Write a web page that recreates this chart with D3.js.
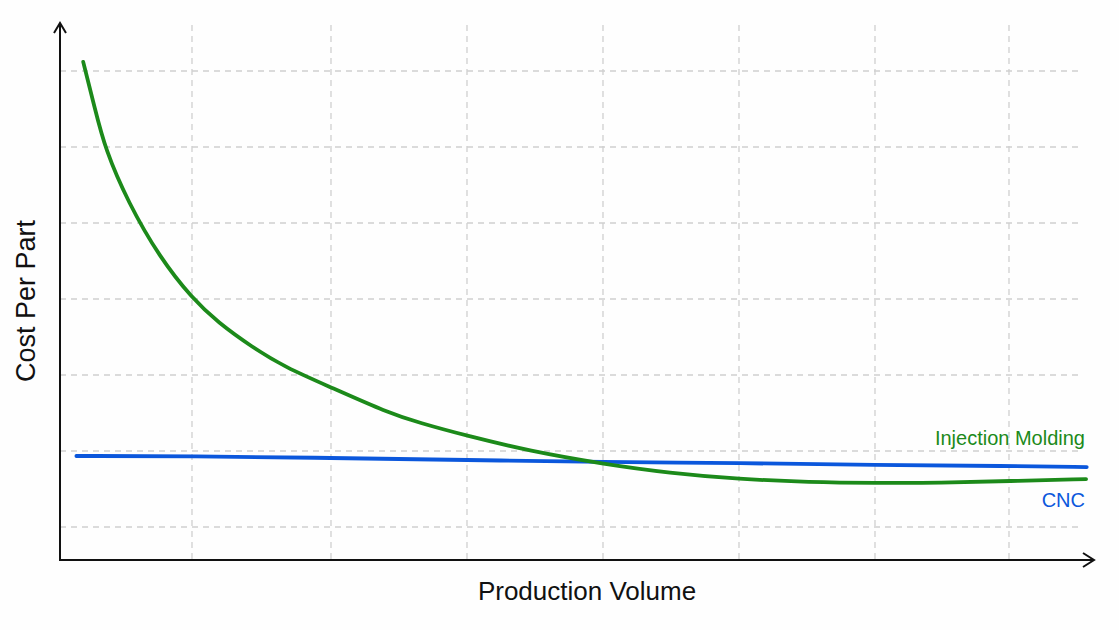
<!DOCTYPE html>
<html>
<head>
<meta charset="utf-8">
<script src="https://cdn.jsdelivr.net/npm/d3@7"></script>
<style>
  html, body { margin: 0; padding: 0; background: #fefefe; }
  svg { display: block; font-family: "Liberation Sans", Arial, sans-serif; }
</style>
</head>
<body>
<svg id="chart" width="1119" height="630"></svg>
<script>
// values (volume, cost per part) in grid units
var gridVolume = [1, 2, 3, 4, 5, 6, 7];
var gridCost = [1, 2, 3, 4, 5, 6, 7];

var injectionVolume = [0.20, 0.287, 0.36, 0.53, 0.765, 1.00, 1.187, 1.43, 1.67, 2.01, 2.41, 2.65, 3.00, 3.46, 4.00, 4.49, 5.00, 5.52, 6.00, 6.49, 7.00, 7.575];
var injectionCost = [7.12, 6.50, 5.98, 5.27, 4.54, 4.01, 3.69, 3.37, 3.10, 2.83, 2.51, 2.37, 2.20, 2.00, 1.83, 1.71, 1.63, 1.59, 1.58, 1.58, 1.605, 1.63];

var cncVolume = [0.15, 1.00, 2.00, 3.00, 4.00, 5.00, 6.00, 7.00, 7.58];
var cncCost = [1.934, 1.934, 1.908, 1.882, 1.855, 1.842, 1.816, 1.803, 1.789];

var seriesNames = ["Injection Molding", "CNC"];
var axisTitles = {x: "Production Volume", y: "Cost Per Part"};

var svg = d3.select("#chart");

var axisLeft = 60, axisBottom = 560, axisTop = 23, axisRight = 1094;

// grid columns in the picture are not perfectly even
var x = d3.scaleLinear().domain([0, 1, 2, 6, 7, 8]).range([56, 192, 331, 875, 1009, 1143]);
var y = d3.scaleLinear().domain([0, 7]).range([603, 71]);

var green = "#1c8a1a", blue = "#0b57dc";

// grid
var grid = svg.append("g")
    .attr("stroke", "#cfcfcf")
    .attr("stroke-width", 1.3)
    .attr("stroke-dasharray", "6,5");

grid.selectAll(".gx")
    .data(gridVolume)
    .enter().append("line")
    .attr("x1", function (d) { return x(d); })
    .attr("x2", function (d) { return x(d); })
    .attr("y1", 25)
    .attr("y2", axisBottom);

grid.selectAll(".gy")
    .data(gridCost)
    .enter().append("line")
    .attr("x1", axisLeft)
    .attr("x2", 1083)
    .attr("y1", function (d) { return y(d); })
    .attr("y2", function (d) { return y(d); });

// curves
var line = d3.line()
    .x(function (d) { return x(d[0]); })
    .y(function (d) { return y(d[1]); })
    .curve(d3.curveBasis);

var injection = injectionVolume.map(function (v, i) { return [v, injectionCost[i]]; });
var cnc = cncVolume.map(function (v, i) { return [v, cncCost[i]]; });

svg.append("path")
    .datum(cnc)
    .attr("fill", "none")
    .attr("stroke", blue)
    .attr("stroke-width", 3.8)
    .attr("stroke-linecap", "round")
    .attr("d", line);

svg.append("path")
    .datum(injection)
    .attr("fill", "none")
    .attr("stroke", green)
    .attr("stroke-width", 3.8)
    .attr("stroke-linecap", "round")
    .attr("d", line);

// axes with arrows
var axes = svg.append("g")
    .attr("stroke", "#111")
    .attr("stroke-width", 2)
    .attr("fill", "none");

axes.append("path")
    .attr("d", "M" + axisLeft + "," + axisBottom + "V" + axisTop);
axes.append("path")
    .attr("d", "M" + (axisLeft - 6) + "," + (axisTop + 10) + "L" + axisLeft + "," + axisTop + "L" + (axisLeft + 6) + "," + (axisTop + 10));

axes.append("path")
    .attr("d", "M" + (axisLeft - 1) + "," + axisBottom + "H" + axisRight);
axes.append("path")
    .attr("d", "M" + (axisRight - 11) + "," + (axisBottom - 7) + "L" + axisRight + "," + axisBottom + "L" + (axisRight - 11) + "," + (axisBottom + 7));

// labels
svg.append("text")
    .attr("x", 587)
    .attr("y", 600)
    .attr("text-anchor", "middle")
    .attr("font-size", 26)
    .attr("fill", "#111")
    .text(axisTitles.x);

svg.append("text")
    .attr("transform", "translate(35,301) rotate(-90)")
    .attr("text-anchor", "middle")
    .attr("font-size", 27)
    .attr("fill", "#111")
    .text(axisTitles.y);

svg.append("text")
    .attr("x", 1085)
    .attr("y", 445)
    .attr("text-anchor", "end")
    .attr("font-size", 20)
    .attr("fill", green)
    .text(seriesNames[0]);

svg.append("text")
    .attr("x", 1085)
    .attr("y", 507)
    .attr("text-anchor", "end")
    .attr("font-size", 20)
    .attr("fill", blue)
    .text(seriesNames[1]);
</script>
</body>
</html>
